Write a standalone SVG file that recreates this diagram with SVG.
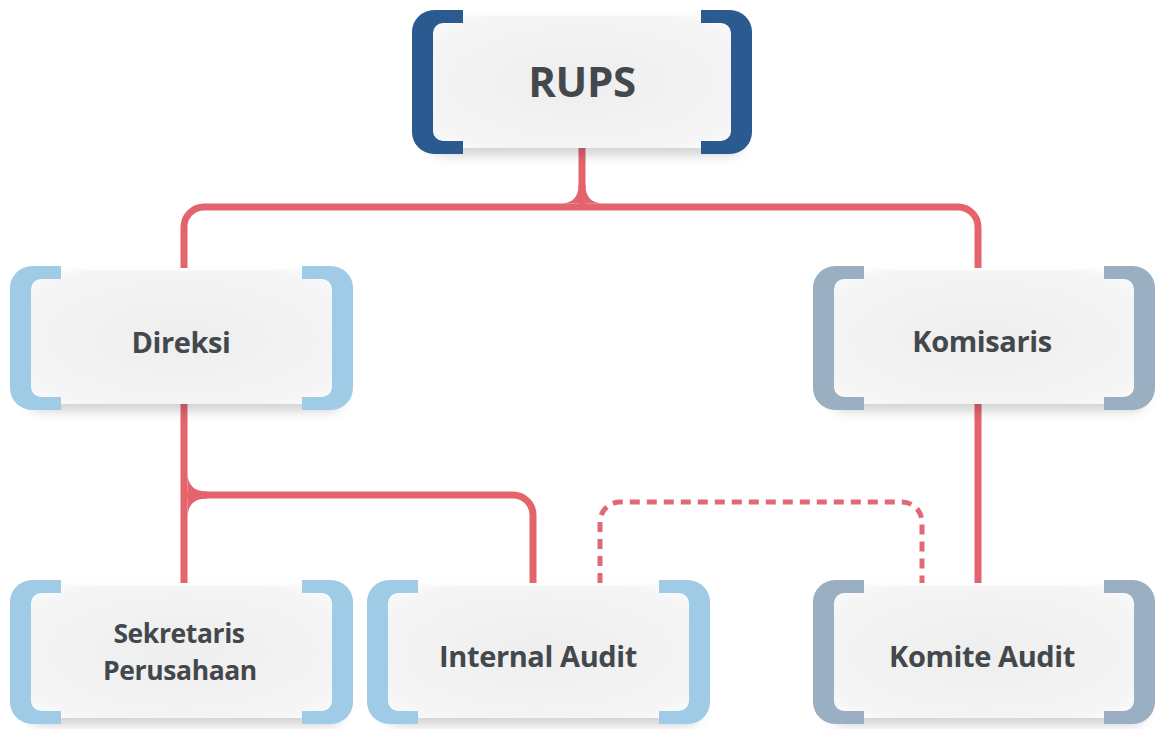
<svg xmlns="http://www.w3.org/2000/svg" xmlns:xlink="http://www.w3.org/1999/xlink" width="1156" height="729" viewBox="0 0 1156 729">
  <style>
    .card { fill: url(#cardGrad); filter: url(#shadow); }
    .lbl { font-family: "Open Sans", "Liberation Sans", sans-serif; font-weight: 700; fill: #43484D; text-anchor: middle; letter-spacing: -0.4px; }
    .big { font-size: 42px; }
    .small { font-size: 29px; }
    .two { font-size: 26.5px; }
    .dark { fill: #2B5A91; }
    .light { fill: #A0CBE6; }
    .slate { fill: #9BAFC3; }
    .line { fill: none; stroke: #E4646E; stroke-width: 7; }
    .dash { fill: none; stroke: #E06A74; stroke-width: 5; stroke-dasharray: 10 7; }
    .fillet { fill: #E4646E; }
  </style>
  <defs>
    <radialGradient id="cardGrad" cx="0.5" cy="0.5" r="0.7">
      <stop offset="0" stop-color="#EEEEEE"/>
      <stop offset="0.8" stop-color="#F5F5F5"/>
      <stop offset="1" stop-color="#FDFDFD"/>
    </radialGradient>
    <filter id="shadow" x="-10%" y="-15%" width="125%" height="140%">
      <feDropShadow dx="4" dy="7" stdDeviation="6" flood-color="#000000" flood-opacity="0.18"/>
    </filter>
    <path id="brk" d="M51,0 H22 A22,22 0 0 0 0,22 V122 A22,22 0 0 0 22,144 H51 V131 H31 A10,10 0 0 1 21,121 V23 A10,10 0 0 1 31,13 H51 Z"/>
  </defs>
  <rect width="1156" height="729" fill="#FFFFFF"/>

  <g id="connectors">
    <path class="line" d="M582,148 V207"/>
    <path class="line" d="M184,268 V227 A20,20 0 0 1 204,207 H958 A20,20 0 0 1 978,227 V268"/>
    <path class="fillet" d="M560,203.5 Q578.5,203.5 578.5,185 L585.5,185 Q585.5,203.5 604,203.5 Z"/>
    <path class="line" d="M184,404 V583"/>
    <path class="line" d="M184,495 H513 A20,20 0 0 1 533,515 V583"/>
    <path class="fillet" d="M187.5,472 Q187.5,491.5 207,491.5 L207,498.5 Q187.5,498.5 187.5,518 Z"/>
    <path class="line" d="M978,404 V583"/>
    <path class="dash" d="M600,583 V522 A20,20 0 0 1 620,502 H902 A20,20 0 0 1 922,522 V583"/>
  </g>

  <g id="rups">
    <rect class="card" x="426" y="16" width="312" height="132" rx="14"/>
    <use href="#brk" class="dark" transform="translate(412,10)"/>
    <use href="#brk" class="dark" transform="translate(752,10) scale(-1,1)"/>
    <text class="lbl big" x="582" y="97">RUPS</text>
  </g>

  <g id="direksi">
    <rect class="card" x="24" y="271" width="315" height="133" rx="14"/>
    <use href="#brk" class="light" transform="translate(10,266)"/>
    <use href="#brk" class="light" transform="translate(353,266) scale(-1,1)"/>
    <text class="lbl small" x="181" y="353">Direksi</text>
  </g>

  <g id="komisaris">
    <rect class="card" x="827" y="271" width="314" height="133" rx="14"/>
    <use href="#brk" class="slate" transform="translate(813,266)"/>
    <use href="#brk" class="slate" transform="translate(1155,266) scale(-1,1)"/>
    <text class="lbl small" x="982" y="352">Komisaris</text>
  </g>

  <g id="sekretaris">
    <rect class="card" x="24" y="586" width="315" height="132" rx="14"/>
    <use href="#brk" class="light" transform="translate(10,580)"/>
    <use href="#brk" class="light" transform="translate(353,580) scale(-1,1)"/>
    <text class="lbl two" x="179" y="643">Sekretaris</text>
    <text class="lbl two" x="180" y="680">Perusahaan</text>
  </g>

  <g id="internal-audit">
    <rect class="card" x="381" y="586" width="315" height="132" rx="14"/>
    <use href="#brk" class="light" transform="translate(367,580)"/>
    <use href="#brk" class="light" transform="translate(710,580) scale(-1,1)"/>
    <text class="lbl small" x="538" y="667">Internal Audit</text>
  </g>

  <g id="komite-audit">
    <rect class="card" x="827" y="586" width="314" height="132" rx="14"/>
    <use href="#brk" class="slate" transform="translate(813,580)"/>
    <use href="#brk" class="slate" transform="translate(1155,580) scale(-1,1)"/>
    <text class="lbl small" x="982" y="667">Komite Audit</text>
  </g>
</svg>
